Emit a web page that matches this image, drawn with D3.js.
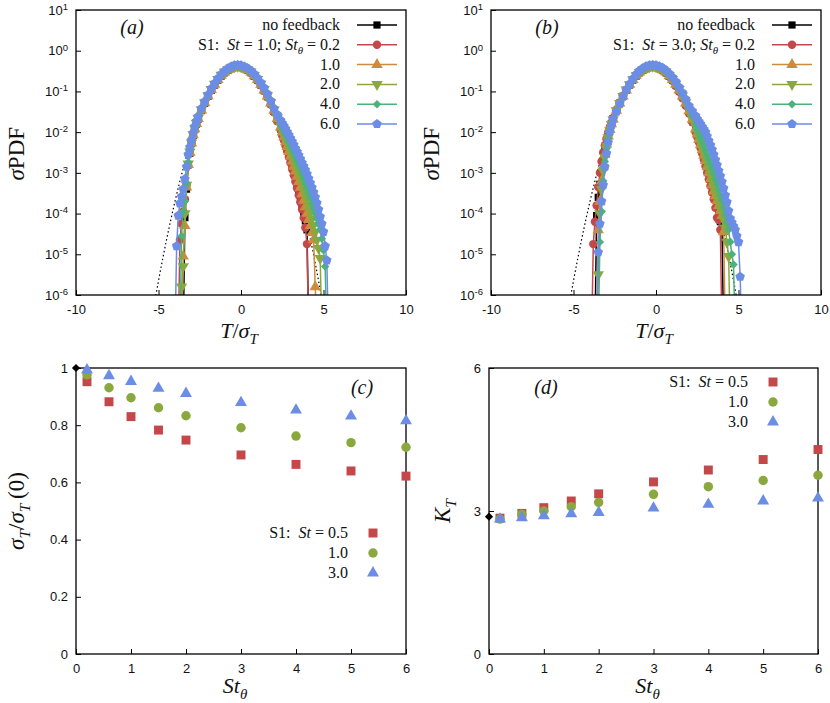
<!DOCTYPE html>
<html>
<head>
<meta charset="utf-8">
<script src="https://cdn.jsdelivr.net/npm/d3@7"></script>
<style>
  body { margin: 0; background: #fff; }
  svg { display: block; }
</style>
</head>
<body>
<div id="main"></div>
<script>
(function() {
  // ---------- data ----------
  const _ = null;          // no bin
  const Z = -Infinity;     // empty bin, line drops to zero

  // bin centres T/sigma_T (finer in the tails where single markers are visible)
  const tGrid = [
    -4.0, -3.9, -3.8, -3.7, -3.6, -3.5, -3.4, -3.3, -3.2, -3.1, -3.0, -2.9, -2.8, -2.7, -2.6,
    -2.4, -2.2, -2.0, -1.8, -1.6, -1.4, -1.2, -1.0, -0.8, -0.6, -0.4, -0.2, 0, 0.2, 0.4, 0.6, 0.8, 1.0, 1.2, 1.4, 1.6, 1.8, 2.0, 2.2, 2.4,
    2.5, 2.6, 2.7, 2.8, 2.9, 3.0, 3.1, 3.2, 3.3, 3.4, 3.5, 3.6, 3.7, 3.8, 3.9, 4.0, 4.1, 4.2, 4.3, 4.4, 4.5, 4.6, 4.7, 4.8, 4.9, 5.0, 5.1, 5.2, 5.3
  ];

  // log10(sigma PDF), panel (a): St = 1.0
  const pdfA_noFeedback = [
    _, _, _, _, _, Z, -4.1, -3.4, -2.8, -2.52, -2.28, -2.08, -1.93, -1.8, -1.68,
    -1.47, -1.29, -1.12, -0.97, -0.84, -0.72, -0.62, -0.54, -0.48, -0.44, -0.41, -0.40, -0.41, -0.44, -0.48, -0.54, -0.63, -0.72, -0.84, -0.98, -1.13, -1.30, -1.49, -1.70, -1.92,
    -2.04, -2.16, -2.29, -2.43, -2.56, -2.70, -2.85, -3.00, -3.16, -3.32, -3.48, -3.65, -3.82, -4.00, -4.18, -4.40, Z, _, _, _, _, _, _, _, _, _, _, _, _
  ];
  const pdfA_st02 = [
    _, _, Z, -4.65, -4.25, -3.95, -3.65, -3.3, -2.82, -2.52, -2.28, -2.08, -1.93, -1.8, -1.68,
    -1.47, -1.29, -1.12, -0.97, -0.84, -0.72, -0.62, -0.54, -0.48, -0.44, -0.41, -0.40, -0.41, -0.44, -0.48, -0.54, -0.63, -0.73, -0.85, -0.99, -1.14, -1.32, -1.51, -1.73, -1.95,
    -2.08, -2.2, -2.34, -2.47, -2.61, -2.76, -2.91, -3.06, -3.22, -3.38, -3.55, -3.72, -3.9, -4.1, -4.35, -4.75, Z, _, _, _, _, _, _, _, _, _, _, _, _
  ];
  const pdfA_st10 = [
    _, _, _, _, Z, -5.05, -4.3, -3.35, -2.8, -2.5, -2.27, -2.07, -1.92, -1.79, -1.67,
    -1.46, -1.28, -1.11, -0.96, -0.83, -0.71, -0.61, -0.53, -0.47, -0.43, -0.40, -0.39, -0.40, -0.43, -0.47, -0.53, -0.62, -0.71, -0.83, -0.97, -1.12, -1.29, -1.47, -1.67, -1.88,
    -2.0, -2.12, -2.24, -2.36, -2.48, -2.6, -2.72, -2.84, -2.96, -3.09, -3.22, -3.36, -3.52, -3.68, -3.84, -4.0, -4.15, -4.3, -4.47, -4.65, -5.8, Z, _, _, _, _, _, _, _
  ];
  const pdfA_st20 = [
    _, _, _, Z, -5.8, -5.3, -4.0, -3.3, -2.78, -2.48, -2.26, -2.06, -1.91, -1.78, -1.66,
    -1.45, -1.27, -1.10, -0.95, -0.82, -0.70, -0.60, -0.52, -0.46, -0.42, -0.39, -0.38, -0.39, -0.42, -0.46, -0.52, -0.61, -0.70, -0.82, -0.95, -1.10, -1.27, -1.45, -1.64, -1.85,
    -1.95, -2.05, -2.15, -2.25, -2.35, -2.45, -2.56, -2.67, -2.78, -2.89, -3.0, -3.12, -3.25, -3.38, -3.51, -3.65, -3.8, -3.95, -4.12, -4.28, -4.45, -4.65, -4.85, -5.1, Z, _, _, _, _
  ];
  const pdfA_st40 = [
    _, _, _, Z, -4.55, -3.95, -3.7, -3.25, -2.74, -2.45, -2.24, -2.04, -1.9, -1.76, -1.65,
    -1.44, -1.26, -1.09, -0.94, -0.81, -0.69, -0.59, -0.51, -0.45, -0.41, -0.38, -0.37, -0.38, -0.41, -0.45, -0.51, -0.60, -0.69, -0.81, -0.94, -1.08, -1.24, -1.42, -1.6, -1.8,
    -1.9, -1.98, -2.07, -2.15, -2.24, -2.33, -2.42, -2.51, -2.61, -2.7, -2.8, -2.91, -3.03, -3.14, -3.26, -3.38, -3.5, -3.62, -3.75, -3.87, -4.0, -4.13, -4.26, -4.4, -4.62, -4.9, -5.3, Z, _
  ];
  const pdfA_st60 = [
    Z, -4.8, -4.05, -3.75, -3.58, -3.4, -3.15, -2.85, -2.55, -2.37, -2.2, -2.02, -1.86, -1.73, -1.62,
    -1.42, -1.25, -1.08, -0.93, -0.80, -0.68, -0.58, -0.50, -0.44, -0.39, -0.36, -0.35, -0.36, -0.39, -0.43, -0.49, -0.57, -0.67, -0.78, -0.91, -1.06, -1.23, -1.42, -1.57, -1.71,
    -1.78, -1.85, -1.92, -2.0, -2.07, -2.15, -2.23, -2.31, -2.4, -2.48, -2.57, -2.66, -2.75, -2.84, -2.93, -3.03, -3.14, -3.25, -3.36, -3.48, -3.6, -3.74, -3.9, -4.08, -4.25, -4.45, -4.8, -5.15, Z
  ];

  // log10(sigma PDF), panel (b): St = 3.0
  const pdfB_noFeedback = [
    _, _, _, Z, -4.05, -3.6, -3.28, -2.98, -2.7, -2.45, -2.25, -2.07, -1.92, -1.79, -1.67,
    -1.47, -1.29, -1.12, -0.97, -0.84, -0.72, -0.62, -0.54, -0.48, -0.44, -0.41, -0.40, -0.41, -0.44, -0.48, -0.54, -0.63, -0.72, -0.84, -0.98, -1.13, -1.30, -1.49, -1.70, -1.92,
    -2.04, -2.16, -2.29, -2.43, -2.56, -2.70, -2.85, -3.00, -3.16, -3.32, -3.48, -3.65, -3.82, -4.0, -4.2, -4.4, Z, _, _, _, _, _, _, _, _, _, _, _, _
  ];
  const pdfB_st02 = [
    _, Z, -4.75, -4.2, -3.8, -3.35, -3.0, -2.72, -2.5, -2.32, -2.16, -2.01, -1.88, -1.76, -1.65,
    -1.45, -1.28, -1.11, -0.96, -0.83, -0.72, -0.62, -0.54, -0.48, -0.44, -0.41, -0.40, -0.41, -0.44, -0.49, -0.55, -0.64, -0.74, -0.87, -1.01, -1.17, -1.35, -1.54, -1.76, -2.0,
    -2.12, -2.25, -2.39, -2.53, -2.68, -2.84, -3.0, -3.16, -3.32, -3.48, -3.65, -3.86, -4.1, -4.16, -4.4, Z, _, _, _, _, _, _, _, _, _, _, _, _, _
  ];
  const pdfB_st10 = [
    _, _, _, _, Z, -4.4, -3.7, -3.2, -2.85, -2.55, -2.3, -2.1, -1.94, -1.8, -1.68,
    -1.47, -1.29, -1.12, -0.97, -0.83, -0.71, -0.61, -0.53, -0.47, -0.43, -0.40, -0.39, -0.40, -0.43, -0.47, -0.53, -0.62, -0.71, -0.83, -0.97, -1.12, -1.29, -1.48, -1.69, -1.92,
    -2.05, -2.18, -2.31, -2.44, -2.57, -2.7, -2.85, -3.0, -3.15, -3.3, -3.45, -3.57, -3.69, -3.81, -3.93, -4.05, -4.45, Z, _, _, _, _, _, _, _, _, _, _, _
  ];
  const pdfB_st20 = [
    _, _, _, _, Z, -5.5, -4.0, -3.4, -2.95, -2.62, -2.35, -2.13, -1.96, -1.81, -1.69,
    -1.47, -1.29, -1.12, -0.96, -0.83, -0.71, -0.61, -0.53, -0.47, -0.42, -0.39, -0.38, -0.39, -0.42, -0.46, -0.52, -0.61, -0.70, -0.82, -0.95, -1.10, -1.27, -1.45, -1.65, -1.86,
    -1.98, -2.1, -2.22, -2.35, -2.47, -2.6, -2.74, -2.89, -3.03, -3.18, -3.33, -3.46, -3.58, -3.7, -3.82, -3.95, -4.15, -4.35, -4.7, -5.05, Z, _, _, _, _, _, _, _, _
  ];
  const pdfB_st40 = [
    _, _, _, _, _, Z, -4.7, -3.95, -3.2, -2.72, -2.4, -2.16, -1.98, -1.83, -1.7,
    -1.48, -1.30, -1.12, -0.96, -0.83, -0.71, -0.60, -0.52, -0.46, -0.41, -0.38, -0.37, -0.38, -0.41, -0.45, -0.51, -0.59, -0.68, -0.80, -0.93, -1.07, -1.23, -1.41, -1.6, -1.8,
    -1.92, -2.02, -2.13, -2.23, -2.34, -2.45, -2.56, -2.67, -2.79, -2.9, -3.02, -3.15, -3.28, -3.42, -3.55, -3.68, -3.85, -4.03, -4.22, -4.4, -4.7, -5.0, -5.25, Z, _, _, _, _, _
  ];
  const pdfB_st60 = [
    _, _, _, _, Z, -4.95, -4.25, -3.7, -3.3, -2.85, -2.52, -2.25, -2.0, -1.83, -1.68,
    -1.5, -1.31, -1.13, -0.96, -0.82, -0.69, -0.58, -0.49, -0.43, -0.38, -0.36, -0.35, -0.36, -0.38, -0.42, -0.48, -0.56, -0.65, -0.76, -0.89, -1.03, -1.19, -1.35, -1.48, -1.6,
    -1.68, -1.74, -1.8, -1.87, -1.93, -2.0, -2.1, -2.21, -2.32, -2.43, -2.55, -2.68, -2.81, -2.95, -3.08, -3.22, -3.38, -3.55, -3.72, -3.93, -4.12, -4.22, -4.31, -4.4, -4.55, -4.7, -5.55, Z, _
  ];

  // dotted Gaussian reference, log10(sigma PDF)
  const gaussT = [-5.5, -5.0, -4.5, -4.0, -3.5, -3.0, -2.5, -2.0, -1.5, -1.0, -0.5, 0, 0.5, 1.0, 1.5, 2.0, 2.5, 3.0, 3.5, 4.0, 4.5, 5.0];
  const gaussLog = [-6.79, -5.65, -4.62, -3.70, -2.89, -2.20, -1.62, -1.15, -0.79, -0.54, -0.41, -0.385, -0.47, -0.68, -0.99, -1.42, -1.95, -2.60, -3.36, -4.24, -5.22, -6.32];

  const stThetaLabels = ["0.2", "1.0", "2.0", "4.0", "6.0"];

  // panels (c), (d)
  const stTheta = [0.2, 0.6, 1.0, 1.5, 2.0, 3.0, 4.0, 5.0, 6.0];
  const sigmaSt05 = [0.952, 0.882, 0.830, 0.783, 0.748, 0.696, 0.663, 0.640, 0.622];
  const sigmaSt10 = [0.976, 0.931, 0.896, 0.861, 0.833, 0.791, 0.762, 0.739, 0.723];
  const sigmaSt30 = [0.993, 0.973, 0.953, 0.929, 0.911, 0.879, 0.853, 0.832, 0.815];
  const kurtSt05 = [2.85, 2.95, 3.07, 3.21, 3.36, 3.61, 3.86, 4.08, 4.29];
  const kurtSt10 = [2.83, 2.93, 3.00, 3.09, 3.18, 3.35, 3.51, 3.64, 3.75];
  const kurtSt30 = [2.83, 2.86, 2.90, 2.94, 2.97, 3.06, 3.14, 3.21, 3.27];
  const sigmaNoFeedback = 1.0;
  const kurtNoFeedback = 2.88;
  const stLabels = ["0.5", "1.0", "3.0"];

  const pdfXTicks = [-10, -5, 0, 5, 10];
  const pdfYExps = [-6, -5, -4, -3, -2, -1, 0, 1];
  const stXTicks = [0, 1, 2, 3, 4, 5, 6];
  const sigmaYTicks = [0, 0.2, 0.4, 0.6, 0.8, 1];
  const kurtYTicks = [0, 3, 6];

  // ---------- drawing ----------
  const serif = "'Liberation Serif', 'DejaVu Serif', serif";
  const sans = "'Liberation Sans', Arial, sans-serif";

  const pentagon = {
    draw(context, size) {
      const r = Math.sqrt(size / 2.378);
      for (let i = 0; i < 5; i++) {
        const a = -Math.PI / 2 + i * 2 * Math.PI / 5;
        if (i === 0) context.moveTo(r * Math.cos(a), r * Math.sin(a));
        else context.lineTo(r * Math.cos(a), r * Math.sin(a));
      }
      context.closePath();
    }
  };

  const pdfStyles = [
    { color: "#000000", type: d3.symbolSquare, size: 52, rotate: 0 },
    { color: "#c4474a", type: d3.symbolCircle, size: 56, rotate: 0 },
    { color: "#cf8b3d", type: d3.symbolTriangle, size: 56, rotate: 0 },
    { color: "#8ba83e", type: d3.symbolTriangle, size: 56, rotate: 180 },
    { color: "#4cb27a", type: d3.symbolSquare, size: 36, rotate: 45 },
    { color: "#6b8de5", type: pentagon, size: 60, rotate: 0 }
  ];
  const statStyles = [
    { color: "#c4474a", type: d3.symbolSquare, size: 80, rotate: 0 },
    { color: "#8ba83e", type: d3.symbolCircle, size: 70, rotate: 0 },
    { color: "#6b8de5", type: d3.symbolTriangle, size: 62, rotate: 0 }
  ];

  const svg = d3.select("#main").append("svg").attr("width", 830).attr("height", 703);

  // text with italic / sub / sup pieces
  function rich(text, parts, size) {
    let shift = 0;
    parts.forEach(p => {
      const want = p.sub ? size * 0.26 : p.sup ? -size * 0.42 : 0;
      const ts = text.append("tspan").text(p.t);
      if (want - shift !== 0) ts.attr("dy", want - shift);
      shift = want;
      if (p.it) ts.attr("font-style", "italic");
      if (p.sub || p.sup) ts.attr("font-size", size * 0.68);
    });
  }

  function mathText(x, y, parts, size, anchor, rotate) {
    const t = svg.append("text")
      .attr("font-family", serif)
      .attr("font-size", size)
      .attr("fill", "#111")
      .attr("text-anchor", anchor || "start");
    if (rotate) t.attr("transform", `translate(${x},${y}) rotate(-90)`);
    else t.attr("x", x).attr("y", y);
    rich(t, parts, size);
    return t;
  }

  function symbolPath(st) {
    return d3.symbol().type(st.type).size(st.size)();
  }

  function styleAxis(g) {
    g.select(".domain").remove();
    g.selectAll(".tick line").attr("stroke", "#000").attr("stroke-width", 1);
    g.selectAll(".tick text").attr("fill", "#111");
    g.attr("font-family", sans).attr("font-size", 13);
  }

  function frame(o) {
    svg.append("rect")
      .attr("x", o.x0).attr("y", o.y0)
      .attr("width", o.x1 - o.x0).attr("height", o.y1 - o.y0)
      .attr("fill", "none").attr("stroke", "#000").attr("stroke-width", 1.3);
  }

  function pdfPanel(o) {
    const x = d3.scaleLinear().domain([-10, 10]).range([o.x0, o.x1]);
    const y = d3.scaleLog().domain([1e-6, 10]).range([o.y1, o.y0]);
    const yv = v => v === -Infinity ? o.y1 + 40 : y(Math.pow(10, v));

    svg.append("clipPath").attr("id", o.id).append("rect")
      .attr("x", o.x0).attr("y", o.y0)
      .attr("width", o.x1 - o.x0).attr("height", o.y1 - o.y0);

    const gx = svg.append("g").attr("transform", `translate(0,${o.y1})`)
      .call(d3.axisBottom(x).tickValues(pdfXTicks).tickSize(-5).tickPadding(10).tickFormat(d => String(d)));
    styleAxis(gx);

    const gy = svg.append("g").attr("transform", `translate(${o.x0},0)`)
      .call(d3.axisLeft(y).tickValues(pdfYExps.map(e => Math.pow(10, e))).tickSize(-5).tickPadding(8).tickFormat(""));
    styleAxis(gy);
    gy.selectAll(".tick text").each(function(d) {
      const t = d3.select(this);
      t.append("tspan").text("10");
      t.append("tspan").attr("dy", "-0.5em").attr("font-size", 9.5).text(String(Math.round(Math.log10(d))));
    });

    const plot = svg.append("g").attr("clip-path", `url(#${o.id})`);

    // Gaussian reference
    const gpts = gaussT.map((t, i) => [x(t), yv(gaussLog[i])]);
    plot.append("path")
      .attr("d", d3.line().curve(d3.curveNatural)(gpts))
      .attr("fill", "none")
      .attr("stroke", "#000")
      .attr("stroke-width", 1.2)
      .attr("stroke-dasharray", "1.5,2.5");

    o.series.forEach((arr, i) => {
      if (arr.length !== tGrid.length) throw new Error(o.id + " series " + i + " has " + arr.length);
      const st = pdfStyles[i];
      const pts = tGrid.map((t, j) => ({ t, v: arr[j] })).filter(d => d.v !== null);
      plot.append("path")
        .attr("d", d3.line().x(d => x(d.t)).y(d => yv(d.v))(pts))
        .attr("fill", "none")
        .attr("stroke", st.color)
        .attr("stroke-width", 1.5);
      plot.append("g").selectAll("path")
        .data(pts.filter(d => isFinite(d.v)))
        .join("path")
        .attr("d", symbolPath(st))
        .attr("transform", d => `translate(${x(d.t)},${yv(d.v)}) rotate(${st.rotate})`)
        .attr("fill", st.color);
    });

    frame(o);

    // legend
    const lx = o.x0 + 264;
    o.series.forEach((arr, i) => {
      const st = pdfStyles[i];
      const ry = o.y0 + 15 + i * 19.8;
      svg.append("line")
        .attr("x1", o.x0 + 281).attr("x2", o.x0 + 321)
        .attr("y1", ry).attr("y2", ry)
        .attr("stroke", st.color).attr("stroke-width", 1.5);
      svg.append("path")
        .attr("d", symbolPath(st))
        .attr("transform", `translate(${o.x0 + 301},${ry}) rotate(${st.rotate})`)
        .attr("fill", st.color);
      let parts;
      if (i === 0) parts = [{ t: "no feedback" }];
      else if (i === 1) parts = [
        { t: "S1:\u00a0\u00a0" }, { t: "St", it: true }, { t: " = " + o.st + "; " },
        { t: "St", it: true }, { t: "θ", it: true, sub: true }, { t: " = " + stThetaLabels[0] }
      ];
      else parts = [{ t: stThetaLabels[i - 1] }];
      mathText(lx, ry + 5, parts, 16, "end");
    });

    mathText(o.x0 + 56, o.y0 + 24, [{ t: "(" + o.label + ")", it: true }], 20, "middle");

    mathText(o.x0 - 52, (o.y0 + o.y1) / 2 + 28, [{ t: "σ", it: true }, { t: "PDF" }], 23, "start", true);
    mathText((o.x0 + o.x1) / 2 - 2, o.y1 + 43, [
      { t: "T", it: true }, { t: "/" }, { t: "σ", it: true }, { t: "T", it: true, sub: true }
    ], 22, "middle");
  }

  function statPanel(o) {
    const x = d3.scaleLinear().domain([0, 6]).range([o.x0, o.x1]);
    const y = d3.scaleLinear().domain([0, o.yMax]).range([o.y1, o.y0]);

    const gx = svg.append("g").attr("transform", `translate(0,${o.y1})`)
      .call(d3.axisBottom(x).tickValues(stXTicks).tickSize(-5).tickPadding(10).tickFormat(d => String(d)));
    styleAxis(gx);
    const gy = svg.append("g").attr("transform", `translate(${o.x0},0)`)
      .call(d3.axisLeft(y).tickValues(o.yTicks).tickSize(-5).tickPadding(8).tickFormat(d => String(d)));
    styleAxis(gy);

    frame(o);

    o.series.forEach((arr, i) => {
      const st = statStyles[i];
      svg.append("g").selectAll("path")
        .data(arr.map((v, j) => [stTheta[j], v]))
        .join("path")
        .attr("d", symbolPath(st))
        .attr("transform", d => `translate(${x(d[0])},${y(d[1])})`)
        .attr("fill", st.color);
    });

    // no-feedback value at St_theta = 0
    svg.append("path")
      .attr("d", d3.symbol().type(d3.symbolSquare).size(34)())
      .attr("transform", `translate(${x(0)},${y(o.ref)}) rotate(45)`)
      .attr("fill", "#000");

    // legend
    o.series.forEach((arr, i) => {
      const st = statStyles[i];
      const ry = o.legY + i * 20;
      svg.append("path")
        .attr("d", symbolPath(st))
        .attr("transform", `translate(${o.legX},${ry})`)
        .attr("fill", st.color);
      const parts = i === 0
        ? [{ t: "S1:\u00a0\u00a0" }, { t: "St", it: true }, { t: " = " + stLabels[0] }]
        : [{ t: stLabels[i] }];
      mathText(o.legX - 25, ry + 5, parts, 16, "end");
    });

    mathText(o.labX, o.labY, [{ t: "(" + o.label + ")", it: true }], 20, "middle");
    mathText((o.x0 + o.x1) / 2 - 6, o.y1 + 39, [{ t: "St", it: true }, { t: "θ", it: true, sub: true }], 22, "middle");
    mathText(o.ylabX, (o.y0 + o.y1) / 2, o.ylab, 23, "middle", true);
  }

  pdfPanel({ id: "clipA", x0: 76, x1: 406, y0: 10, y1: 295, label: "a", st: "1.0",
    series: [pdfA_noFeedback, pdfA_st02, pdfA_st10, pdfA_st20, pdfA_st40, pdfA_st60] });
  pdfPanel({ id: "clipB", x0: 491, x1: 821, y0: 10, y1: 295, label: "b", st: "3.0",
    series: [pdfB_noFeedback, pdfB_st02, pdfB_st10, pdfB_st20, pdfB_st40, pdfB_st60] });

  statPanel({ x0: 76, x1: 406, y0: 368, y1: 654, yMax: 1, yTicks: sigmaYTicks,
    series: [sigmaSt05, sigmaSt10, sigmaSt30], ref: sigmaNoFeedback,
    legX: 373, legY: 533, label: "c", labX: 362, labY: 394, ylabX: 24,
    ylab: [{ t: "σ", it: true }, { t: "T", it: true, sub: true }, { t: "/" }, { t: "σ", it: true },
      { t: "T", it: true, sub: true }, { t: "\u2009(0)" }] });
  statPanel({ x0: 489, x1: 818, y0: 368, y1: 654, yMax: 6, yTicks: kurtYTicks,
    series: [kurtSt05, kurtSt10, kurtSt30], ref: kurtNoFeedback,
    legX: 773, legY: 382, label: "d", labX: 546, labY: 394, ylabX: 450,
    ylab: [{ t: "K", it: true }, { t: "T", it: true, sub: true }] });
})();
</script>
</body>
</html>
